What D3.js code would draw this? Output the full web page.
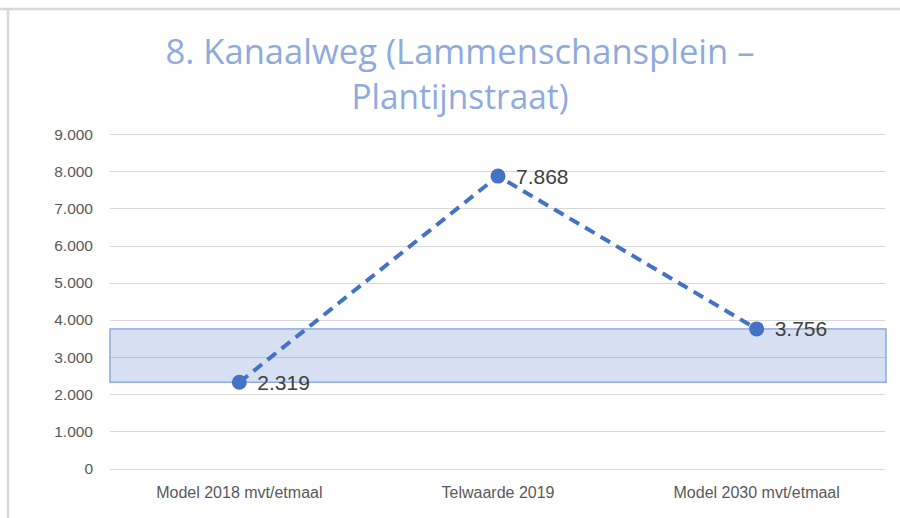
<!DOCTYPE html>
<html lang="nl">
<head>
  <meta charset="UTF-8">
  <title>8. Kanaalweg (Lammenschansplein – Plantijnstraat)</title>
  <script src="https://d3js.org/d3.v7.min.js"></script>
  <style>
    body {
      margin: 0;
      background: #fff;
      font-family: "Liberation Sans", Arial, sans-serif;
    }
    .tick-label {
      fill: #595959;
      font-size: 15.5px;
    }
    .cat-label {
      fill: #595959;
      font-size: 16px;
    }
    .value-label {
      fill: #404040;
      font-size: 21px;
    }
    .title {
      fill: #8faadc;
      font-family: "Open Sans", "Noto Sans", sans-serif;
      font-size: 35px;
    }
  </style>
</head>
<body>
  <svg id="chart"></svg>

  <script>
    // Chart data
    const titleLines = ["8. Kanaalweg (Lammenschansplein –", "Plantijnstraat)"];
    const categories = ["Model 2018 mvt/etmaal", "Telwaarde 2019", "Model 2030 mvt/etmaal"];
    const values = [2319, 7868, 3756];
    const yTicks = [0, 1000, 2000, 3000, 4000, 5000, 6000, 7000, 8000, 9000];
    // shaded range between the two model values
    const modelValues = [values[0], values[2]];

    const W = 900, H = 518;
    const plot = {left: 110, right: 886, top: 134, bottom: 468.5};

    const svg = d3.select("#chart")
      .attr("width", W)
      .attr("height", H);

    // frame edges (screenshot border)
    svg.append("line")
      .attr("x1", 0).attr("x2", W).attr("y1", 9).attr("y2", 9)
      .attr("stroke", "#d9d9d9").attr("stroke-width", 2.5);
    svg.append("line")
      .attr("x1", 8).attr("x2", 8).attr("y1", 8).attr("y2", H)
      .attr("stroke", "#d9d9d9").attr("stroke-width", 2.5);

    // title
    const titleWidths = [589, 217];
    svg.selectAll(".title")
      .data(titleLines)
      .enter()
      .append("text")
      .attr("class", "title")
      .attr("x", 460)
      .attr("y", (d, i) => 64 + i * 45)
      .attr("text-anchor", "middle")
      .attr("textLength", (d, i) => titleWidths[i])
      .attr("lengthAdjust", "spacingAndGlyphs")
      .text(d => d);

    // scales
    const x = d3.scaleBand()
      .domain(categories)
      .range([plot.left, plot.right]);

    const y = d3.scaleLinear()
      .domain([0, 9000])
      .range([plot.bottom, plot.top]);

    const fmt = v => v === 0 ? "0" : d3.format(",")(v).replace(/,/g, ".");
    const fmt3 = v => d3.format(",")(v).replace(/,/g, ".");

    // gridlines
    svg.append("g")
      .selectAll("line")
      .data(yTicks)
      .enter()
      .append("line")
      .attr("x1", plot.left)
      .attr("x2", plot.right - 1)
      .attr("y1", d => Math.round(y(d)) + 0.5)
      .attr("y2", d => Math.round(y(d)) + 0.5)
      .attr("stroke", "#d9d9d9")
      .attr("stroke-width", 1.2);

    // shaded band
    const ext = d3.extent(modelValues);
    svg.append("rect")
      .attr("x", plot.left)
      .attr("y", y(ext[1]))
      .attr("width", plot.right - plot.left)
      .attr("height", y(ext[0]) - y(ext[1]))
      .attr("fill", "rgba(68,114,196,0.22)")
      .attr("stroke", "#8faadc")
      .attr("stroke-width", 1.5);

    // y tick labels
    svg.append("g")
      .selectAll("text")
      .data(yTicks)
      .enter()
      .append("text")
      .attr("class", "tick-label")
      .attr("x", 93)
      .attr("y", d => y(d))
      .attr("dy", "0.36em")
      .attr("text-anchor", "end")
      .text(fmt);

    // category labels
    svg.append("g")
      .selectAll("text")
      .data(categories)
      .enter()
      .append("text")
      .attr("class", "cat-label")
      .attr("x", d => x(d) + x.bandwidth() / 2)
      .attr("y", 498)
      .attr("text-anchor", "middle")
      .text(d => d);

    const pts = categories.map((c, i) => ({cat: c, value: values[i]}));

    // dashed line
    const line = d3.line()
      .x(d => x(d.cat) + x.bandwidth() / 2)
      .y(d => y(d.value));

    svg.append("path")
      .datum(pts)
      .attr("fill", "none")
      .attr("stroke", "#4472c4")
      .attr("stroke-width", 4)
      .attr("stroke-dasharray", "11,7")
      .attr("d", line);

    // markers
    svg.append("g")
      .selectAll("circle")
      .data(pts)
      .enter()
      .append("circle")
      .attr("cx", d => x(d.cat) + x.bandwidth() / 2)
      .attr("cy", d => y(d.value))
      .attr("r", 7.5)
      .attr("fill", "#4472c4");

    // value labels
    svg.append("g")
      .selectAll("text")
      .data(pts)
      .enter()
      .append("text")
      .attr("class", "value-label")
      .attr("x", d => x(d.cat) + x.bandwidth() / 2 + 18)
      .attr("y", d => y(d.value))
      .attr("dy", "0.36em")
      .text(d => fmt3(d.value));
  </script>
</body>
</html>
